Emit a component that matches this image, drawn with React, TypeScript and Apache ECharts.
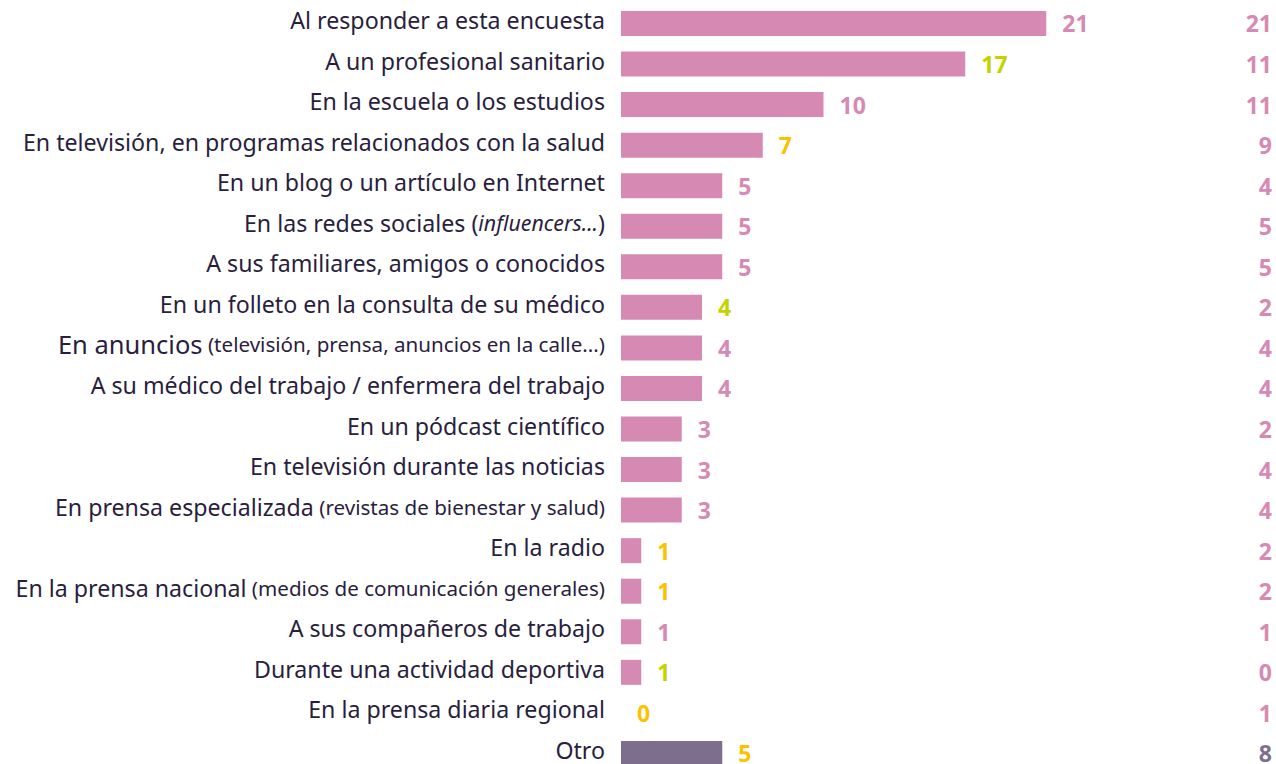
import React, { useEffect, useRef } from "react";
import * as echarts from "echarts";

const categories = [
  "Al responder a esta encuesta",
  "A un profesional sanitario",
  "En la escuela o los estudios",
  "En televisión, en programas relacionados con la salud",
  "En un blog o un artículo en Internet",
  "En las redes sociales (influencers...)",
  "A sus familiares, amigos o conocidos",
  "En un folleto en la consulta de su médico",
  "En anuncios (televisión, prensa, anuncios en la calle...)",
  "A su médico del trabajo / enfermera del trabajo",
  "En un pódcast científico",
  "En televisión durante las noticias",
  "En prensa especializada (revistas de bienestar y salud)",
  "En la radio",
  "En la prensa nacional (medios de comunicación generales)",
  "A sus compañeros de trabajo",
  "Durante una actividad deportiva",
  "En la prensa diaria regional",
  "Otro",
];

const values = [21, 17, 10, 7, 5, 5, 5, 4, 4, 4, 3, 3, 3, 1, 1, 1, 1, 0, 5];

// comparison column on the right
const compareValues = [21, 11, 11, 9, 4, 5, 5, 2, 4, 4, 2, 4, 4, 2, 2, 1, 0, 1, 8];

// significance of difference: "up", "down", "same"
const significance = [
  "same", "up", "same", "down", "same", "same", "same", "up", "same", "same",
  "same", "same", "same", "down", "down", "same", "up", "down", "down",
];

const PINK = "#D68AB3";
const OTHER = "#7E6E8E";
const GREEN = "#C4D300";
const YELLOW = "#FCC200";
const TEXT = "#2A1E3E";
const FONT = "Noto Sans";

const sigColor = (s: string) => (s === "up" ? GREEN : s === "down" ? YELLOW : PINK);

function formatCategory(label: string): string {
  if (label.startsWith("En las redes sociales")) {
    return "{n|En las redes sociales (}{i|influencers...}{n|)}";
  }
  if (label.startsWith("En anuncios")) {
    const p = label.indexOf(" (");
    return `{b|${label.slice(0, p)}}{s| ${label.slice(p + 1)}}`;
  }
  const p = label.indexOf(" (");
  if (p >= 0) {
    return `{n|${label.slice(0, p)}}{s| ${label.slice(p + 1)}}`;
  }
  return `{n|${label}}`;
}

export default function App() {
  const ref = useRef<HTMLDivElement>(null);
  useEffect(() => {
    if (!ref.current) return;
    const chart = echarts.init(ref.current, null, { renderer: "svg" });
    const last = categories.length - 1;
    chart.setOption({
      animation: false,
      grid: { left: 621, right: 7, top: 3.2, height: 770.5 },
      xAxis: {
        type: "value",
        min: 0,
        max: 32,
        show: false,
      },
      yAxis: [
        {
          type: "category",
          data: categories,
          inverse: true,
          axisLine: { show: false },
          axisTick: { show: false },
          splitLine: { show: false },
          axisLabel: {
            margin: 16,
            padding: [0, 0, 7, 0],
            formatter: (v: string) => formatCategory(v),
            rich: {
              n: { fontFamily: FONT, fontSize: 23.2, color: TEXT },
              b: { fontFamily: FONT, fontSize: 25.5, color: TEXT },
              s: { fontFamily: FONT, fontSize: 20.6, color: TEXT },
              i: { fontFamily: FONT, fontSize: 21.3, fontStyle: "italic", color: TEXT },
            },
          },
        },
        {
          type: "category",
          data: categories,
          inverse: true,
          position: "right",
          offset: 3,
          axisLine: { show: false },
          axisTick: { show: false },
          splitLine: { show: false },
          axisLabel: {
            margin: 0,
            align: "right",
            padding: [0, 0, 5, 0],
            fontFamily: FONT,
            fontWeight: "bold",
            fontSize: 23,
            formatter: (_v: string, i: number) => String(compareValues[i]),
            color: (_v: string, i: number) => (i === last ? OTHER : PINK),
          },
        },
      ],
      series: [
        {
          type: "bar",
          yAxisIndex: 0,
          barWidth: 25,
          data: values.map((v, i) => ({
            value: v,
            itemStyle: { color: i === last ? OTHER : PINK },
            label: { color: sigColor(significance[i]) },
          })),
          label: {
            show: true,
            position: "right",
            distance: 16,
            padding: [0, 0, 1, 0],
            fontFamily: FONT,
            fontWeight: "bold",
            fontSize: 23,
          },
        },
      ],
    });
    return () => chart.dispose();
  }, []);
  return (
    <div
      ref={ref}
      style={{ position: "fixed", left: 0, top: 0, width: 1276, height: 780, background: "#fff" }}
    />
  );
}
